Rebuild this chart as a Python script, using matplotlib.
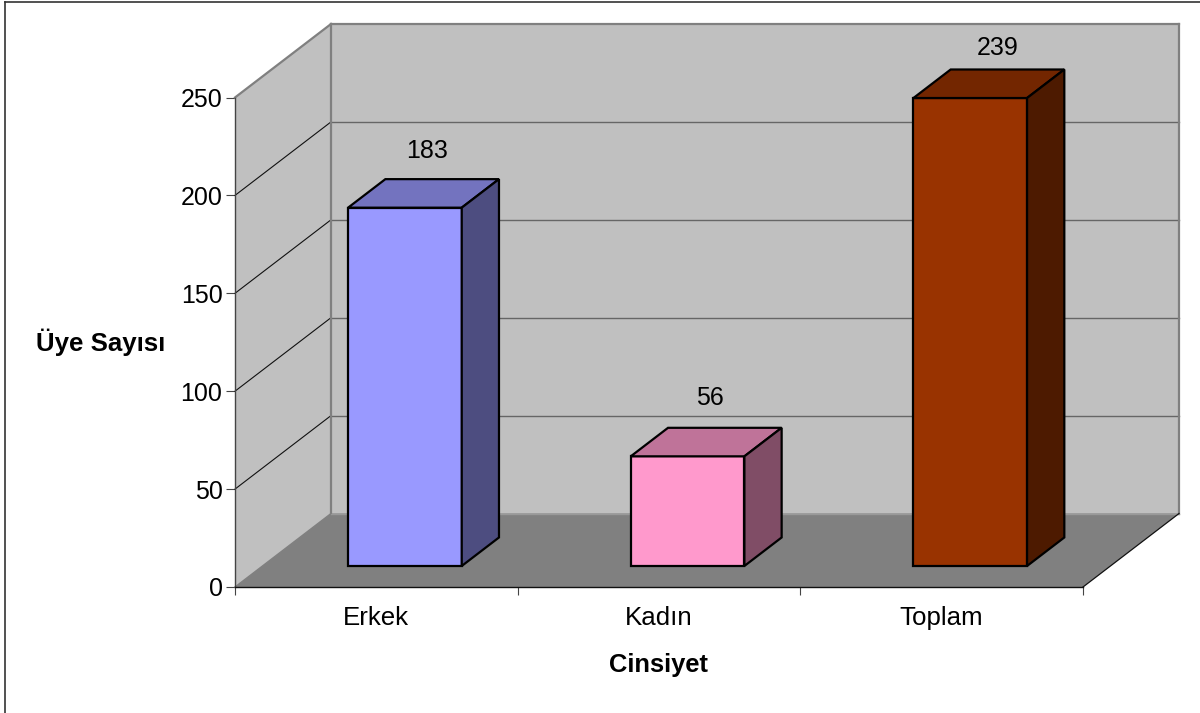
import matplotlib
matplotlib.use("Agg")
import matplotlib.pyplot as plt
from matplotlib.lines import Line2D

plt.rcParams['font.family'] = ['Liberation Sans', 'DejaVu Sans']

# data
categories = ["Erkek", "Kadın", "Toplam"]
values = [183, 56, 239]
y_ticks = [0, 50, 100, 150, 200, 250]

# colours (front, top, side)
front_colors = ["#9999FF", "#FF99CC", "#993300"]
top_colors = ["#7373BF", "#BF7399", "#732600"]
side_colors = ["#4D4D80", "#804D66", "#4D1A00"]

W, H = 1200, 713
fig = plt.figure(figsize=(W / 100, H / 100), dpi=100, facecolor="white")

# front plane of the box, in pixels
left, right, bottom, top = 235, 1083, 587, 97.5
ax = fig.add_axes([left / W, 1 - bottom / H, (right - left) / W, (bottom - top) / H])
ax.set_xlim(0, len(categories))
ax.set_ylim(0, 250)
ax.patch.set_visible(False)

# oblique depth: one unit of depth in data units
dx = 96 / ((right - left) / len(categories))
dy = 73.5 / ((bottom - top) / 250)


def proj(x, y, d):
    return x + d * dx, y + d * dy


def face(pts, color, z, ec="none", lw=0):
    xy = [proj(*p) for p in pts]
    ax.fill([p[0] for p in xy], [p[1] for p in xy], facecolor=color,
            edgecolor=ec, linewidth=lw, zorder=z, clip_on=False, joinstyle="miter")


def line(p1, p2, color, lw, z=2):
    a, b = proj(*p1), proj(*p2)
    ax.plot([a[0], b[0]], [a[1], b[1]], color=color, lw=lw, zorder=z,
            clip_on=False, solid_capstyle="projecting")


xmax = len(categories)
ymax = y_ticks[-1]

# walls and floor
face([(0, 0, 0), (0, ymax, 0), (0, ymax, 1), (0, 0, 1)], "#C0C0C0", 1)
face([(0, 0, 1), (0, ymax, 1), (xmax, ymax, 1), (xmax, 0, 1)], "#C0C0C0", 1)
face([(0, 0, 0), (xmax, 0, 0), (xmax, 0, 1), (0, 0, 1)], "#808080", 1.5)

# gridlines
for t in y_ticks[1:-1]:
    line((0, t, 0), (0, t, 1), "#111111", 0.8)
    line((0, t, 1), (xmax, t, 1), "#666666", 1.0)

# wall edges
line((0, ymax, 0), (0, ymax, 1), "#808080", 1.6)
line((0, ymax, 1), (xmax, ymax, 1), "#808080", 1.6)
line((0, 0, 1), (0, ymax, 1), "#808080", 1.6)
line((xmax, 0, 1), (xmax, ymax, 1), "#808080", 1.6)
line((0, 0, 1), (xmax, 0, 1), "#999999", 1.0)
line((0, 0, 0), (0, 0, 1), "#808080", 1.0)
line((xmax, 0, 0), (xmax, 0, 1), "#111111", 0.9)

# bars
bar_w = 0.402
d0 = 0.286
bar_d = 0.388
label_dx = [0.011, 0.014, 0.030]
label_dy = [20.5, 21.6, 15.5]

for i, v in enumerate(values):
    x0 = i + 0.5 - bar_w / 2 + 0.004
    x1 = x0 + bar_w
    d1 = d0 + bar_d
    face([(x0, 0, d0), (x0, v, d0), (x1, v, d0), (x1, 0, d0)], front_colors[i], 3, "black", 1.6)
    face([(x0, v, d0), (x0, v, d1), (x1, v, d1), (x1, v, d0)], top_colors[i], 3, "black", 1.6)
    face([(x1, 0, d0), (x1, v, d0), (x1, v, d1), (x1, 0, d1)], side_colors[i], 3, "black", 1.6)
    lx, _ = proj(i + 0.504, v, d0 + bar_d / 2)
    _, ly = proj(i + 0.504, v, d1)
    ax.annotate(str(v), (lx + label_dx[i], ly), xytext=(0, label_dy[i]),
                textcoords="offset points", ha="center", va="center",
                fontsize=18, color="black", zorder=5, annotation_clip=False)

# axes
for s in ["top", "right"]:
    ax.spines[s].set_visible(False)
ax.spines["left"].set_color("#444444")
ax.spines["left"].set_linewidth(1.0)
ax.spines["bottom"].set_color("#111111")
ax.spines["bottom"].set_linewidth(1.0)
for s in ax.spines.values():
    s.set_zorder(2.5)

ax.set_yticks(y_ticks)
ax.set_yticklabels([str(t) for t in y_ticks], fontsize=18)
ax.set_xticks(range(xmax + 1))
ax.set_xticklabels([])
ax.set_xticks([i + 0.5 for i in range(xmax)], minor=True)
ax.set_xticklabels(categories, minor=True, fontsize=18.6)
ax.tick_params(axis="y", length=6.5, width=0.8, color="#444444", pad=2.5)
ax.tick_params(axis="x", which="major", length=6, width=0.8, color="#444444")
ax.tick_params(axis="x", which="minor", length=0, pad=13.5)

# axis titles
fig.text(100.5 / W, 1 - 342 / H, "Üye Sayısı", fontsize=18.6, fontweight="bold", ha="center", va="center")
fig.text(659 / W, 1 - 665 / H, "Cinsiyet", fontsize=18.4, fontweight="bold", ha="center", va="center")

# chart border
fig.add_artist(Line2D([5 / W, 5 / W], [0, 1 - 1.5 / H], color="#333333", lw=1.2))
fig.add_artist(Line2D([5 / W, 1], [1 - 1.5 / H, 1 - 1.5 / H], color="#333333", lw=1.2))

fig.savefig("out.png", dpi=100)
